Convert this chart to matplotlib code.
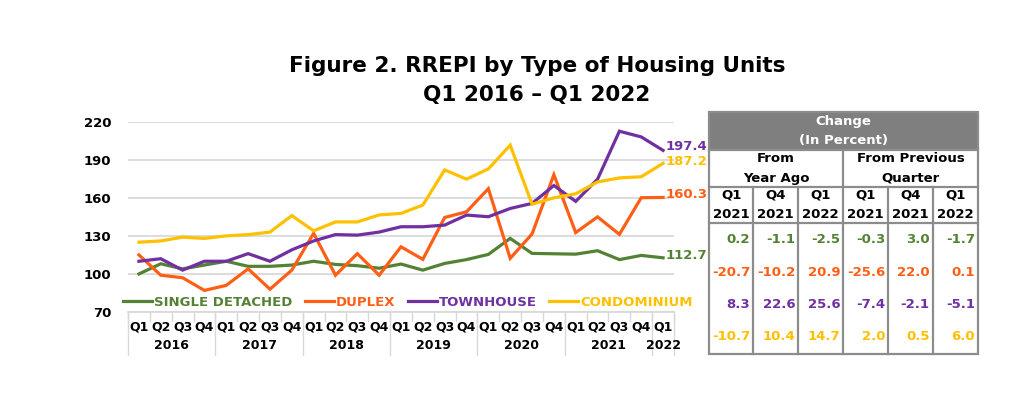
import numpy as np
import matplotlib.pyplot as plt
from matplotlib.patches import Rectangle

# DATOS
trimestres = ['Q1', 'Q2', 'Q3', 'Q4'] * 6 + ['Q1']
anios = ['2016', '2017', '2018', '2019', '2020', '2021', '2022']

single = [100, 108, 104, 107, 110, 106, 106, 107, 110, 107.5, 106.5, 104.5, 107.8, 103,
          108.3, 111.3, 115.4, 128, 116.2, 115.9, 115.6, 118.3, 111.3, 114.6, 112.7]
duplex = [115, 99, 97, 87, 91, 104, 88, 103, 132, 99, 116, 99, 121.4, 111.5,
          144.5, 149, 167.2, 112.3, 131.5, 178.2, 132.6, 145, 131.2, 160.1, 160.3]
townhouse = [110, 112, 103, 110, 110, 116, 110, 119, 126, 131, 130.6, 133, 137.2, 137.2,
             138.5, 146.4, 145.1, 151.6, 155.6, 169.7, 157.2, 174.7, 212.5, 208.0, 197.4]
condo = [125, 126, 129, 128, 130, 131, 133, 146, 134, 141, 141, 146.5, 147.7, 154.3,
         182, 174.7, 182.8, 201.5, 155, 160, 163.2, 172.5, 175.7, 176.6, 187.2]

series = ['SINGLE DETACHED', 'DUPLEX', 'TOWNHOUSE', 'CONDOMINIUM']
colores = ['#548235', '#FF5F15', '#7030A0', '#FFC000']

# tabla de cambios (en porcentaje)
periodo_q = ['Q1', 'Q4', 'Q1', 'Q1', 'Q4', 'Q1']
periodo_y = ['2021', '2021', '2022', '2021', '2021', '2022']
single_chg = [0.2, -1.1, -2.5, -0.3, 3.0, -1.7]
duplex_chg = [-20.7, -10.2, 20.9, -25.6, 22.0, 0.1]
town_chg = [8.3, 22.6, 25.6, -7.4, -2.1, -5.1]
condo_chg = [-10.7, 10.4, 14.7, 2.0, 0.5, 6.0]

plt.rcParams['font.family'] = ['DejaVu Sans']
plt.rcParams['font.weight'] = 'bold'

W, H = 1024, 394
fig = plt.figure(figsize=(W / 100, H / 100), dpi=100)

# GRAFICO DE LINEAS
ax = fig.add_axes([128 / W, (H - 312) / H, 546 / W, (312 - 121.7) / H])
x = np.arange(len(trimestres))
desfase = [2, 2, 3, 1]  # pequeño ajuste vertical de las etiquetas finales (pt)
for datos, nombre, c, dy in zip([single, duplex, townhouse, condo], series, colores, desfase):
    ax.plot(x, datos, color=c, lw=2.3, label=nombre, solid_joinstyle='miter')
    ax.annotate(f"{datos[-1]:.1f}", xy=(x[-1], datos[-1]), xytext=(2, dy),
                textcoords='offset points', color=c, fontsize=9.5, fontweight='bold',
                va='center', ha='left', annotation_clip=False)

ax.set_xlim(-0.5, len(trimestres) - 0.5)
ax.set_ylim(70, 220)
ax.set_yticks(np.arange(70, 221, 30))
ax.tick_params(axis='y', length=0, pad=12, labelsize=9.5)
ax.set_xticks([])
ax.grid(axis='y', color='#d9d9d9', lw=1.3)
ax.set_axisbelow(True)
for s in ['top', 'right', 'left']:
    ax.spines[s].set_visible(False)
ax.spines['bottom'].set_color('#d9d9d9')
ax.spines['bottom'].set_linewidth(1.3)

# eje de categorias en dos niveles
tr = ax.get_xaxis_transform()
for i, q in enumerate(trimestres):
    ax.text(i, -0.08, q, transform=tr, ha='center', va='center', fontsize=9)
for i in range(len(trimestres) + 1):
    ax.plot([i - 0.5, i - 0.5], [0, -0.045], transform=tr, color='#d9d9d9', lw=1, clip_on=False)
for k, a in enumerate(anios):
    ini = 4 * k
    fin = min(4 * k + 3, len(trimestres) - 1)
    ax.text((ini + fin) / 2, -0.175, a, transform=tr, ha='center', va='center', fontsize=9)
    ax.plot([ini - 0.5, ini - 0.5], [0, -0.225], transform=tr, color='#d9d9d9', lw=1, clip_on=False)
ax.plot([len(trimestres) - 0.5] * 2, [0, -0.225], transform=tr, color='#d9d9d9', lw=1, clip_on=False)

fig.legend(loc='center', bbox_to_anchor=(408 / W, (H - 302) / H), ncol=4, frameon=False,
           labelcolor='linecolor', handlelength=2.2, handletextpad=0.2,
           columnspacing=0.9, prop={'weight': 'bold', 'size': 9.5})

# TITULO
fig.text(537 / W, 1 - 66 / H, 'Figure 2. RREPI by Type of Housing Units', ha='center',
         va='center', fontsize=15.5, fontweight='bold')
fig.text(537 / W, 1 - 95 / H, 'Q1 2016 – Q1 2022', ha='center', va='center',
         fontsize=15.5, fontweight='bold')

# TABLA
tax = fig.add_axes([0, 0, 1, 1])
tax.set_xlim(0, W)
tax.set_ylim(H, 0)
tax.axis('off')

cols = [709, 753.3, 798.3, 843.3, 888.3, 932.7, 978]
y_top, y_h1, y_h2, y_h3, y_bot = 112, 149.5, 187.3, 222.7, 354
borde = '#8c8c8c'

tax.add_patch(Rectangle((cols[0], y_top), cols[-1] - cols[0], y_h1 - y_top,
                        facecolor='#7f7f7f', edgecolor='none'))
tax.add_patch(Rectangle((cols[0], y_top), cols[-1] - cols[0], y_bot - y_top,
                        facecolor='none', edgecolor=borde, lw=1.6))
for yy in [y_h1, y_h2, y_h3]:
    tax.plot([cols[0], cols[-1]], [yy, yy], color=borde, lw=1.6)
tax.plot([cols[3], cols[3]], [y_h1, y_bot], color=borde, lw=1.6)
for cx in cols[1:3] + cols[4:6]:
    tax.plot([cx, cx], [y_h2, y_bot], color=borde, lw=1.6)

xm = (cols[0] + cols[-1]) / 2
tax.text(xm, 121, 'Change', color='white', ha='center', va='center', fontsize=9.5)
tax.text(xm, 140, '(In Percent)', color='white', ha='center', va='center', fontsize=9.5)
xl = (cols[0] + cols[3]) / 2
xr = (cols[3] + cols[-1]) / 2
tax.text(xl, 158, 'From', ha='center', va='center', fontsize=9.5)
tax.text(xl, 178, 'Year Ago', ha='center', va='center', fontsize=9.5)
tax.text(xr, 158, 'From Previous', ha='center', va='center', fontsize=9.5)
tax.text(xr, 178, 'Quarter', ha='center', va='center', fontsize=9.5)

for j in range(6):
    xc = (cols[j] + cols[j + 1]) / 2
    tax.text(xc, 195, periodo_q[j], ha='center', va='center', fontsize=9.5)
    tax.text(xc, 214, periodo_y[j], ha='center', va='center', fontsize=9.5)

filas_y = [239.5, 272, 304.5, 337]
for fila, c, yy in zip([single_chg, duplex_chg, town_chg, condo_chg], colores, filas_y):
    for j, v in enumerate(fila):
        tax.text(cols[j + 1] - 3, yy, f"{v:.1f}", color=c, ha='right', va='center',
                 fontsize=9.5, fontweight='bold')

fig.savefig('out.png', dpi=100)
